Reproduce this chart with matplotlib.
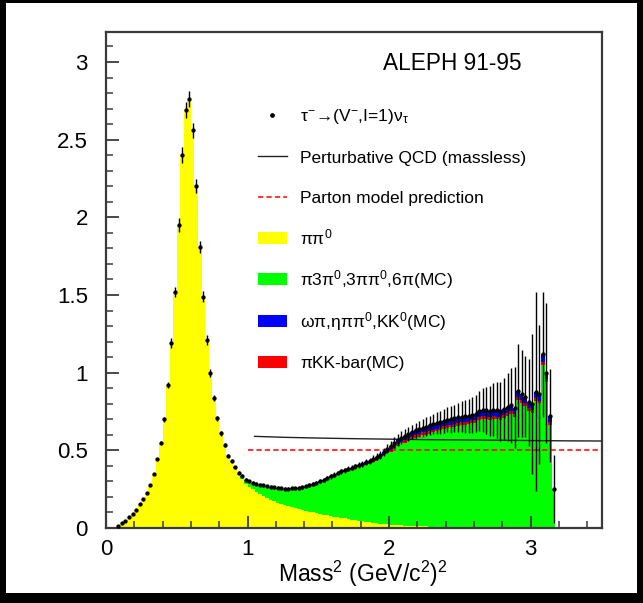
import numpy as np
import matplotlib
matplotlib.use("Agg")
import matplotlib.pyplot as plt
from matplotlib.patches import Rectangle
from matplotlib.ticker import MultipleLocator

plt.rcParams['font.family'] = ['Liberation Sans', 'DejaVu Sans']
plt.rcParams['mathtext.fontset'] = 'custom'
plt.rcParams['mathtext.rm'] = 'Liberation Sans'
plt.rcParams['mathtext.it'] = 'Liberation Sans:italic'
plt.rcParams['mathtext.bf'] = 'Liberation Sans:bold'

# ---------------- data (bins of 0.025 GeV^2 starting at 0.075) ----------------
bin_start = 0.075
bin_width = 0.025

data_val = [
    0.010, 0.030, 0.047, 0.070, 0.092, 0.116, 0.153, 0.185, 0.227, 0.277,
    0.350, 0.446, 0.550, 0.700, 0.920, 1.190, 1.520, 1.950, 2.400, 2.690,
    2.760, 2.560, 2.200, 1.810, 1.490, 1.210, 1.000, 0.835, 0.706, 0.610,
    0.534, 0.464, 0.433, 0.390, 0.356, 0.335, 0.309, 0.300, 0.292, 0.285,
    0.280, 0.274, 0.270, 0.265, 0.262, 0.258, 0.255, 0.254, 0.254, 0.255,
    0.256, 0.258, 0.262, 0.268, 0.275, 0.283, 0.292, 0.300, 0.310, 0.320,
    0.332, 0.344, 0.355, 0.364, 0.372, 0.380, 0.388, 0.397, 0.405, 0.413,
    0.422, 0.432, 0.445, 0.458, 0.472, 0.490, 0.510, 0.530, 0.550, 0.567,
    0.582, 0.595, 0.607, 0.618, 0.628, 0.637, 0.645, 0.652, 0.660, 0.668,
    0.675, 0.682, 0.690, 0.697, 0.700, 0.705, 0.712, 0.715, 0.718, 0.720,
    0.728, 0.735, 0.755, 0.760, 0.757, 0.755, 0.762, 0.757, 0.752, 0.765,
    0.780, 0.790, 0.775, 0.885, 0.865, 0.845, 0.810, 0.800, 0.878, 0.860,
    1.117, 1.000, 0.724, 0.250,
]

data_err = [
    0.004, 0.004, 0.004, 0.004, 0.004, 0.004, 0.004, 0.004, 0.004, 0.004,
    0.004, 0.006, 0.010, 0.015, 0.020, 0.030, 0.030, 0.045, 0.050, 0.050,
    0.050, 0.050, 0.045, 0.040, 0.035, 0.030, 0.025, 0.020, 0.018, 0.015,
    0.013, 0.010, 0.010, 0.010, 0.010, 0.010, 0.010, 0.010, 0.010, 0.010,
    0.010, 0.010, 0.010, 0.010, 0.010, 0.010, 0.010, 0.010, 0.010, 0.010,
    0.010, 0.011, 0.011, 0.011, 0.012, 0.012, 0.012, 0.013, 0.013, 0.014,
    0.014, 0.015, 0.015, 0.015, 0.016, 0.016, 0.017, 0.017, 0.018, 0.018,
    0.019, 0.020, 0.022, 0.023, 0.025, 0.027, 0.030, 0.032, 0.035, 0.037,
    0.040, 0.042, 0.045, 0.048, 0.050, 0.053, 0.056, 0.060, 0.063, 0.066,
    0.070, 0.074, 0.078, 0.082, 0.086, 0.090, 0.095, 0.100, 0.105, 0.110,
    0.115, 0.120, 0.130, 0.140, 0.150, 0.160, 0.170, 0.180, 0.190, 0.200,
    0.220, 0.240, 0.260, 0.300, 0.280, 0.260, 0.280, 0.450, 0.640, 0.450,
    0.400, 0.450, 0.300, 0.220,
]

pipi0 = [
    0.010, 0.030, 0.047, 0.070, 0.092, 0.116, 0.153, 0.185, 0.227, 0.277,
    0.350, 0.446, 0.550, 0.700, 0.920, 1.190, 1.520, 1.950, 2.400, 2.690,
    2.760, 2.560, 2.200, 1.810, 1.490, 1.210, 1.000, 0.835, 0.706, 0.610,
    0.534, 0.464, 0.425, 0.380, 0.342, 0.315, 0.285, 0.265, 0.248, 0.232,
    0.218, 0.205, 0.193, 0.182, 0.172, 0.163, 0.155, 0.148, 0.141, 0.134,
    0.128, 0.122, 0.116, 0.110, 0.105, 0.100, 0.095, 0.090, 0.086, 0.082,
    0.078, 0.073, 0.069, 0.066, 0.062, 0.058, 0.054, 0.050, 0.046, 0.043,
    0.040, 0.037, 0.034, 0.031, 0.028, 0.025, 0.023, 0.021, 0.019, 0.018,
    0.017, 0.016, 0.015, 0.014, 0.013, 0.012, 0.011, 0.010, 0.009, 0.008,
    0.008, 0.007, 0.006, 0.006, 0.005, 0.005, 0.004, 0.004, 0.004, 0.003,
    0.003, 0.003, 0.002, 0.002, 0.002, 0.002, 0.002, 0.001, 0.001, 0.001,
    0.001, 0.001, 0.001, 0.001, 0.001, 0.001, 0.000, 0.000, 0.000, 0.000,
    0.000, 0.000, 0.000, 0.000,
]

multipi = [
    0.000, 0.000, 0.000, 0.000, 0.000, 0.000, 0.000, 0.000, 0.000, 0.000,
    0.000, 0.000, 0.000, 0.000, 0.000, 0.000, 0.000, 0.000, 0.000, 0.000,
    0.000, 0.000, 0.000, 0.000, 0.000, 0.000, 0.000, 0.000, 0.000, 0.000,
    0.000, 0.000, 0.006, 0.008, 0.012, 0.018, 0.022, 0.031, 0.040, 0.049,
    0.058, 0.065, 0.073, 0.079, 0.086, 0.089, 0.094, 0.100, 0.107, 0.115,
    0.122, 0.130, 0.140, 0.150, 0.162, 0.175, 0.189, 0.202, 0.216, 0.228,
    0.242, 0.259, 0.274, 0.286, 0.298, 0.308, 0.320, 0.333, 0.345, 0.353,
    0.363, 0.376, 0.392, 0.401, 0.416, 0.437, 0.459, 0.468, 0.491, 0.512,
    0.527, 0.531, 0.544, 0.556, 0.567, 0.577, 0.586, 0.589, 0.598, 0.607,
    0.614, 0.622, 0.631, 0.638, 0.642, 0.647, 0.655, 0.658, 0.661, 0.664,
    0.672, 0.674, 0.695, 0.700, 0.697, 0.695, 0.702, 0.698, 0.693, 0.706,
    0.721, 0.731, 0.716, 0.826, 0.806, 0.786, 0.752, 0.742, 0.820, 0.802,
    1.049, 0.942, 0.666, 0.250,
]

kkbar = [
    0.000, 0.000, 0.000, 0.000, 0.000, 0.000, 0.000, 0.000, 0.000, 0.000,
    0.000, 0.000, 0.000, 0.000, 0.000, 0.000, 0.000, 0.000, 0.000, 0.000,
    0.000, 0.000, 0.000, 0.000, 0.000, 0.000, 0.000, 0.000, 0.000, 0.000,
    0.000, 0.000, 0.000, 0.000, 0.000, 0.000, 0.000, 0.000, 0.000, 0.000,
    0.000, 0.000, 0.000, 0.000, 0.000, 0.000, 0.000, 0.000, 0.000, 0.000,
    0.000, 0.000, 0.000, 0.000, 0.000, 0.000, 0.000, 0.000, 0.000, 0.000,
    0.002, 0.002, 0.002, 0.002, 0.002, 0.002, 0.002, 0.002, 0.002, 0.002,
    0.004, 0.004, 0.004, 0.004, 0.008, 0.008, 0.008, 0.012, 0.012, 0.012,
    0.012, 0.018, 0.018, 0.018, 0.018, 0.018, 0.018, 0.018, 0.018, 0.018,
    0.018, 0.018, 0.018, 0.018, 0.018, 0.018, 0.018, 0.018, 0.018, 0.018,
    0.018, 0.018, 0.018, 0.018, 0.018, 0.018, 0.018, 0.018, 0.018, 0.018,
    0.018, 0.018, 0.018, 0.018, 0.018, 0.018, 0.018, 0.018, 0.018, 0.018,
    0.018, 0.018, 0.018, 0.000,
]

omegapi = [
    0.000, 0.000, 0.000, 0.000, 0.000, 0.000, 0.000, 0.000, 0.000, 0.000,
    0.000, 0.000, 0.000, 0.000, 0.000, 0.000, 0.000, 0.000, 0.000, 0.000,
    0.000, 0.000, 0.000, 0.000, 0.000, 0.000, 0.000, 0.000, 0.000, 0.000,
    0.002, 0.002, 0.002, 0.002, 0.002, 0.002, 0.002, 0.004, 0.004, 0.004,
    0.004, 0.004, 0.004, 0.004, 0.004, 0.006, 0.006, 0.006, 0.006, 0.006,
    0.006, 0.006, 0.006, 0.008, 0.008, 0.008, 0.008, 0.008, 0.008, 0.010,
    0.010, 0.010, 0.010, 0.010, 0.010, 0.012, 0.012, 0.012, 0.012, 0.015,
    0.015, 0.015, 0.015, 0.020, 0.020, 0.020, 0.020, 0.025, 0.025, 0.025,
    0.025, 0.030, 0.030, 0.030, 0.030, 0.030, 0.030, 0.035, 0.035, 0.035,
    0.035, 0.035, 0.035, 0.035, 0.035, 0.035, 0.035, 0.035, 0.035, 0.035,
    0.035, 0.040, 0.040, 0.040, 0.040, 0.040, 0.040, 0.040, 0.040, 0.040,
    0.040, 0.040, 0.040, 0.040, 0.040, 0.040, 0.040, 0.040, 0.040, 0.040,
    0.050, 0.040, 0.040, 0.000,
]

qcd_s = [1.05, 1.25, 1.5, 1.75, 2.0, 2.25, 2.5, 2.75, 3.0, 3.25, 3.5]
qcd_v = [0.590, 0.584, 0.579, 0.575, 0.572, 0.569, 0.567, 0.565, 0.563, 0.561, 0.560]
parton_s = [1.0, 3.5]
parton_v = [0.5, 0.5]

x_ticks = [0, 1, 2, 3]
y_ticks = [0, 0.5, 1, 1.5, 2, 2.5, 3]
y_ticklabels = ['0', '0.5', '1', '1.5', '2', '2.5', '3']

labels = [
    r'τ$^{-}\!\rightarrow\!$(V$^{-}$,I=1)ν$_{\mathrm{τ}}$',
    'Perturbative QCD (massless)',
    'Parton model prediction',
    r'ππ$^{0}$',
    r'π3π$^{0}$,3ππ$^{0}$,6π(MC)',
    r'ωπ,ηππ$^{0}$,KK$^{0}$(MC)',
    'πKK-bar(MC)',
]
c_yellow, c_green, c_blue, c_red = '#ffff00', '#00ff00', '#0000ff', '#ff0000'

# ---------------- figure ----------------
W, H = 643, 603
fig = plt.figure(figsize=(W / 100, H / 100), dpi=100)
fig.patch.set_facecolor('black')
fig.add_artist(Rectangle((6 / W, 10 / H), (637 - 6) / W, (593 - 3) / H,
                         transform=fig.transFigure, facecolor='white',
                         edgecolor='none', zorder=-10))

AX_L, AX_R, AX_T, AX_B = 106, 602, 32, 528
ax = fig.add_axes([AX_L / W, (H - AX_B) / H, (AX_R - AX_L) / W, (AX_B - AX_T) / H])
ax.set_facecolor('white')

n = len(data_val)
edges = bin_start + bin_width * np.arange(n + 1)
centers = 0.5 * (edges[:-1] + edges[1:])

y1 = np.array(pipi0)
y2 = y1 + np.array(multipi)
y3 = y2 + np.array(kkbar)
y4 = y3 + np.array(omegapi)
ax.stairs(y1, edges, baseline=0, fill=True, color=c_yellow, lw=0, zorder=1)
ax.stairs(y2, edges, baseline=y1, fill=True, color=c_green, lw=0, zorder=1)
ax.stairs(y3, edges, baseline=y2, fill=True, color=c_red, lw=0, zorder=1)
ax.stairs(y4, edges, baseline=y3, fill=True, color=c_blue, lw=0, zorder=1)

ax.plot(qcd_s, qcd_v, color='#222222', lw=1.0, zorder=3)
ax.plot(parton_s, parton_v, color='red', lw=1.1, dashes=(3.5, 2), zorder=3)

ax.errorbar(centers, data_val, yerr=data_err, fmt='o', ms=2.1, color='black',
            ecolor='black', elinewidth=1.0, capsize=0, zorder=5)

ax.set_xlim(0, 3.505)
ax.set_ylim(0, 3.193)
ax.set_xticks(x_ticks)
ax.set_xticklabels([str(t) for t in x_ticks])
ax.set_yticks(y_ticks)
ax.set_yticklabels(y_ticklabels)
ax.xaxis.set_minor_locator(MultipleLocator(0.2))
ax.yaxis.set_minor_locator(MultipleLocator(0.1))
frame_c = '#3a3a3a'
for sp in ax.spines.values():
    sp.set_color(frame_c)
    sp.set_linewidth(1.6)
ax.tick_params(which='both', direction='in', color=frame_c, top=False, right=False,
               labelsize=16)
ax.tick_params(which='major', length=9, width=1.3)
ax.tick_params(which='minor', length=5, width=1.1)
ax.tick_params(axis='y', pad=13)
ax.tick_params(axis='x', pad=8)

ax.set_xlabel(r'Mass$^{\mathrm{2}}$ (GeV/c$^{\mathrm{2}}$)$^{\mathrm{2}}$', fontsize=16.5)
ax.xaxis.set_label_coords((363 - AX_L) / (AX_R - AX_L), (AX_B - 559) / (AX_B - AX_T))


def fr(px, py):
    return (px - AX_L) / (AX_R - AX_L), (AX_B - py) / (AX_B - AX_T)


# title text
ax.text(*fr(383, 70), 'ALEPH 91-95', fontsize=16.3, ha='left', va='baseline',
        transform=ax.transAxes)

# manual legend
tx = 300
rows = [115, 157, 197, 238, 279, 321, 362]
fs_leg = 12.5
ax.plot(*fr(272, rows[0]), 'o', ms=2.4, color='black', transform=ax.transAxes, clip_on=False)
xa, ya = fr(258, rows[1] - 1)
xb, _ = fr(287, rows[1])
ax.plot([xa, xb], [ya, ya], color='#222222', lw=1.0, transform=ax.transAxes)
xa, ya = fr(258, rows[2])
ax.plot([xa, xb], [ya, ya], color='red', lw=1.1, dashes=(3.5, 2), transform=ax.transAxes)
for r, c in zip(rows[3:], [c_yellow, c_green, c_blue, c_red]):
    x0, y0 = fr(258, r + 6)
    ax.add_patch(Rectangle((x0, y0), 29 / (AX_R - AX_L), 12 / (AX_B - AX_T),
                           transform=ax.transAxes, facecolor=c, edgecolor='none'))
for r, lab in zip(rows, labels):
    ax.text(*fr(tx, r + 6), lab, fontsize=fs_leg, ha='left', va='baseline',
            transform=ax.transAxes)

fig.savefig('out.png', dpi=100, facecolor=fig.get_facecolor())
